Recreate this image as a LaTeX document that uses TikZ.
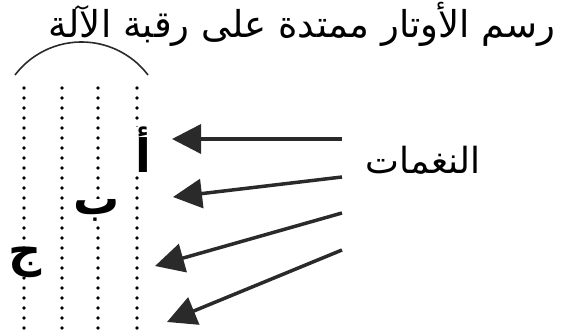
\documentclass[tikz,border=0pt]{standalone}
\usepackage{fontspec}
\usetikzlibrary{arrows.meta}
\TeXXeTstate=1
\newfontfamily\arabicfont[Script=Arabic]{DejaVu Sans}
\newcommand\tsize{\fontsize{37pt}{40pt}\selectfont}
\newcommand\nsize{\fontsize{36pt}{40pt}\selectfont}
\newcommand\lsize{\fontsize{46pt}{50pt}\selectfont}
\definecolor{ink}{HTML}{2A2A2A}
\begin{document}
\begin{tikzpicture}[x=1pt,y=-1pt,
  strng/.style={black,line width=3.8pt,line cap=round,dash pattern=on 0pt off 10pt},
  arr/.style={ink,line width=3.5pt,-{Triangle[length=29pt,width=29pt]}},
  lbl/.style={inner sep=0pt},
  letter/.style={font={\arabicfont\bfseries\lsize},fill=white,inner sep=0pt}]
\useasboundingbox (0,0) rectangle (564,336);
\node[lbl,font={\arabicfont\tsize}] (title) at (302,24) {\beginR رسم الأوتار ممتدة على رقبة الآلة\endR};
\draw[ink,line width=1.6pt] (15,75) arc[start angle=217.2,end angle=322.8,radius=83.5];
\foreach \x/\n in {24/s1,62/s2,98/s3,137/s4}{
  \coordinate (\n t) at (\x,88);
  \coordinate (\n b) at (\x,340);
  \draw[strng] (\n t) -- (\n b);
}
\node[letter] (alef) at (143,150) {\beginR أ\endR};
\node[letter] (ba) at (97,210) {\beginR ب\endR};
\node[letter] (jim) at (25,262) {\beginR ج\endR};
\node[lbl,font={\arabicfont\nsize}] (notes) at (423,160) {\beginR النغمات\endR};
\coordinate (a1) at (342,139);
\coordinate (b1) at (172,139);
\coordinate (a2) at (342,177);
\coordinate (b2) at (173,197);
\coordinate (a3) at (342,213);
\coordinate (b3) at (155,266);
\coordinate (a4) at (342,250);
\coordinate (b4) at (167,322);
\draw[arr] (a1) -- (b1);
\draw[arr] (a2) -- (b2);
\draw[arr] (a3) -- (b3);
\draw[arr] (a4) -- (b4);
\end{tikzpicture}
\end{document}
